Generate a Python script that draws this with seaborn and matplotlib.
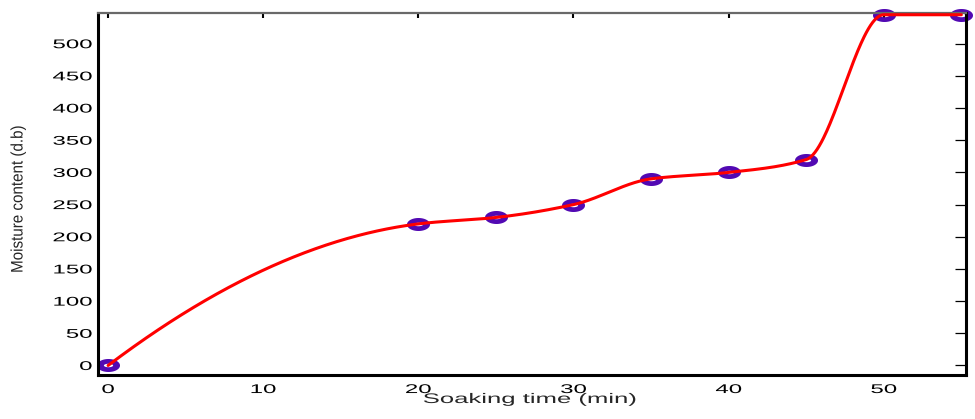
import numpy as np
import pandas as pd
import matplotlib
matplotlib.use("Agg")
import matplotlib.pyplot as plt
import seaborn as sns
from matplotlib.path import Path
from matplotlib.patheffects import AbstractPathEffect
from matplotlib.transforms import Affine2D

# Soaking measurements
soak_time = [0, 20, 25, 30, 35, 40, 45, 50, 55]
moisture = [0, 220, 230, 250, 290, 300, 320, 545, 545]
x_ticks = [0, 10, 20, 30, 40, 50]
y_ticks = [0, 50, 100, 150, 200, 250, 300, 350, 400, 450, 500]


def pchip(x, y, xq):
    """Shape-preserving piecewise cubic Hermite curve through (x, y)."""
    x = np.asarray(x, float)
    y = np.asarray(y, float)
    h = np.diff(x)
    d = np.diff(y) / h
    n = len(x)
    m = np.zeros(n)
    for k in range(1, n - 1):
        if d[k - 1] * d[k] > 0:
            w1 = 2 * h[k] + h[k - 1]
            w2 = h[k] + 2 * h[k - 1]
            m[k] = (w1 + w2) / (w1 / d[k - 1] + w2 / d[k])

    def end(h0, h1, d0, d1):
        s = ((2 * h0 + h1) * d0 - h0 * d1) / (h0 + h1)
        if np.sign(s) != np.sign(d0):
            s = 0.0
        elif np.sign(d0) != np.sign(d1) and abs(s) > abs(3 * d0):
            s = 3 * d0
        return s

    m[0] = end(h[0], h[1], d[0], d[1])
    m[-1] = end(h[-1], h[-2], d[-1], d[-2])
    idx = np.clip(np.searchsorted(x, xq) - 1, 0, n - 2)
    t = (xq - x[idx]) / h[idx]
    h00 = 2 * t**3 - 3 * t**2 + 1
    h10 = t**3 - 2 * t**2 + t
    h01 = -2 * t**3 + 3 * t**2
    h11 = t**3 - t**2
    return (h00 * y[idx] + h10 * h[idx] * m[idx]
            + h01 * y[idx + 1] + h11 * h[idx] * m[idx + 1])


class Stretch(AbstractPathEffect):
    """Scale rendered text about an anchor point of its ink box."""

    def __init__(self, sx=1.0, sy=1.0, anchor="center"):
        super().__init__()
        self.sx, self.sy, self.anchor = sx, sy, anchor

    def draw_path(self, renderer, gc, tpath, affine, rgbFace=None):
        bb = tpath.get_extents(affine)
        if self.anchor == "right":
            px = bb.x1
        elif self.anchor == "left":
            px = bb.x0
        else:
            px = 0.5 * (bb.x0 + bb.x1)
        py = 0.5 * (bb.y0 + bb.y1)
        st = Affine2D().translate(-px, -py).scale(self.sx, self.sy).translate(px, py)
        renderer.draw_path(gc, tpath, affine + st, rgbFace)


points = pd.DataFrame({"time": soak_time, "moisture": moisture})
t_fine = np.linspace(min(soak_time), max(soak_time), 800)
curve = pd.DataFrame({"time": t_fine, "moisture": pchip(soak_time, moisture, t_fine)})

sns.set_theme(style="white")
plt.rcParams["font.family"] = ["Liberation Sans", "DejaVu Sans"]

W, H = 975, 419
fig = plt.figure(figsize=(W / 100, H / 100), dpi=100)
ax = fig.add_axes([98 / W, (H - 375) / H, (966 - 98) / W, (375 - 13) / H])

# wide elliptical ring marker (outer ellipse with an opposite-wound hole)
th = np.linspace(0, 2 * np.pi, 64)
outer = np.column_stack([np.cos(th), 0.565 * np.sin(th)])
inner = np.column_stack([0.40 * np.cos(-th), 0.15 * np.sin(-th)])
codes = [Path.MOVETO] + [Path.LINETO] * 62 + [Path.CLOSEPOLY]
ring = Path(np.vstack([outer, inner]), codes * 2)

sns.scatterplot(data=points, x="time", y="moisture", ax=ax, marker=ring,
                s=275, color="#5209b3", linewidth=0, zorder=2, clip_on=False)
sns.lineplot(data=curve, x="time", y="moisture", ax=ax, color="#ff0000",
             linewidth=2.2, zorder=3)

ax.set_xlim(-0.65, 55.3)
ax.set_ylim(-14.8, 547.7)
ax.set_xticks(x_ticks)
ax.set_yticks(y_ticks)
ax.set_xlabel("")
ax.set_ylabel("")
ax.tick_params(axis="both", direction="in", colors="black", labelsize=9.1,
               top=True, right=True)
ax.tick_params(axis="x", length=3.5, width=1.5, pad=6.5)
ax.tick_params(axis="y", length=8, width=0.9, pad=4.3)
for side in ["left", "right", "bottom"]:
    ax.spines[side].set_color("black")
    ax.spines[side].set_linewidth(2.2)
ax.spines["top"].set_color("#696969")
ax.spines["top"].set_linewidth(1.6)

fig.text(530 / W, (H - 403) / H, "Soaking time (min)", fontsize=10,
         ha="center", va="baseline", path_effects=[Stretch(sx=1.85)])
fig.text(18 / W, (H - 199) / H, "Moisture content (d.b)", fontsize=12,
         rotation=90, ha="center", va="center", path_effects=[Stretch(sy=0.91)])

fig.canvas.draw()
for lbl in ax.get_yticklabels():
    lbl.set_path_effects([Stretch(sx=1.9, anchor="right")])
for lbl in ax.get_xticklabels():
    lbl.set_path_effects([Stretch(sx=1.9)])

fig.savefig("out.png", dpi=100)
